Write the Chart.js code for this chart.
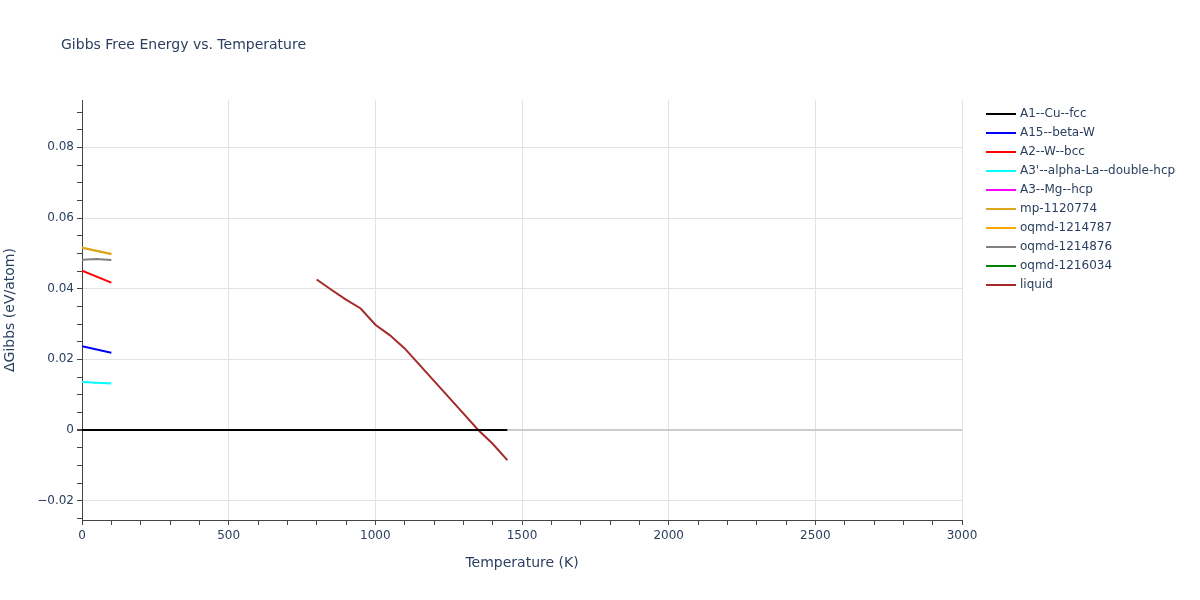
<!DOCTYPE html>
<html lang="en">
<head>
    <meta charset="UTF-8">
    <title>Gibbs Free Energy vs. Temperature</title>
    <script src="https://cdn.jsdelivr.net/npm/chart.js"></script>
    <style>
        body {
            margin: 0;
            padding: 0;
            background: #fff;
        }
        #wrap {
            width: 1200px;
            height: 600px;
        }
    </style>
</head>
<body>
    <div id="wrap">
        <canvas id="gibbsChart" width="1200" height="600"></canvas>
    </div>

    <script>
        // Series names and colours, in legend order
        const seriesNames = ['A1--Cu--fcc', 'A15--beta-W', 'A2--W--bcc', "A3'--alpha-La--double-hcp", 'A3--Mg--hcp',
            'mp-1120774', 'oqmd-1214787', 'oqmd-1214876', 'oqmd-1216034', 'liquid'];
        const seriesColors = ['#000000', '#0000ff', '#ff0000', '#00ffff', '#ff00ff',
            '#daa520', '#ffa500', '#808080', '#008000', '#a52a2a'];

        // Temperatures (K) and ΔGibbs (eV/atom) for each phase
        const tA1 = [0, 1450];
        const gA1 = [0, 0];
        const tA15 = [0, 100];
        const gA15 = [0.0237, 0.0219];
        const tA2 = [0, 100];
        const gA2 = [0.0451, 0.0417];
        const tA3p = [0, 100];
        const gA3p = [0.0136, 0.0132];
        const tA3 = [];
        const gA3 = [];
        const tMp = [0, 100];
        const gMp = [0.0516, 0.0498];
        const tOq787 = [0, 100];
        const gOq787 = [0.0516, 0.0498];
        const tOq876 = [0, 50, 100];
        const gOq876 = [0.0482, 0.0484, 0.0481];
        const tOq034 = [];
        const gOq034 = [];
        const tLiquid = [800, 850, 900, 950, 1000, 1050, 1100, 1150, 1200, 1250, 1300, 1350, 1400, 1450];
        const gLiquid = [0.0426, 0.0397, 0.0369, 0.0344, 0.0298, 0.0268, 0.0231, 0.0185, 0.0139, 0.0093, 0.0047, 0.0001, -0.0039, -0.0085];

        const seriesT = [tA1, tA15, tA2, tA3p, tA3, tMp, tOq787, tOq876, tOq034, tLiquid];
        const seriesG = [gA1, gA15, gA2, gA3p, gA3, gMp, gOq787, gOq876, gOq034, gLiquid];

        // Axis ticks
        const xMajorTicks = [0, 500, 1000, 1500, 2000, 2500, 3000];
        const xMinorStep = 100;
        const yMajorTicks = [-0.02, 0, 0.02, 0.04, 0.06, 0.08];
        const yMinorStep = 0.005;

        const xMin = 0, xMax = 3000;
        const yMin = -0.02546, yMax = 0.0934;

        const textColor = '#2a3f5f';
        const fontFamily = '"DejaVu Sans", Verdana, sans-serif';

        function isMajor(v, list) {
            return list.some(m => Math.abs(m - v) < 1e-9);
        }

        function makeTicks(min, max, step) {
            const out = [];
            const start = Math.ceil(min / step - 1e-9);
            const end = Math.floor(max / step + 1e-9);
            for (let i = start; i <= end; i++) {
                out.push({ value: Math.round(i * step * 1e6) / 1e6 });
            }
            return out;
        }

        const datasets = seriesNames.map((name, i) => ({
            label: name,
            data: seriesT[i].map((t, j) => ({ x: t, y: seriesG[i][j] })),
            borderColor: seriesColors[i],
            backgroundColor: seriesColors[i],
            borderWidth: 2,
            pointRadius: 0,
            tension: 0,
            fill: false
        }));

        // Title, axis titles and legend drawn on top, Plotly-style
        const decorPlugin = {
            id: 'decor',
            afterDraw(chart) {
                const ctx = chart.ctx;
                ctx.save();
                ctx.fillStyle = textColor;
                ctx.textBaseline = 'middle';

                ctx.font = '14px ' + fontFamily;
                ctx.textAlign = 'left';
                ctx.fillText('Gibbs Free Energy vs. Temperature', 61, 45);

                ctx.font = '14px ' + fontFamily;
                ctx.textAlign = 'center';
                const area = chart.chartArea;
                ctx.fillText('Temperature (K)', (area.left + area.right) / 2, 563);

                ctx.save();
                ctx.translate(10, (area.top + area.bottom) / 2);
                ctx.rotate(-Math.PI / 2);
                ctx.fillText('\u0394Gibbs (eV/atom)', 0, 0);
                ctx.restore();

                ctx.font = '12px ' + fontFamily;
                ctx.textAlign = 'left';
                seriesNames.forEach((name, i) => {
                    const y = 114 + i * 19;
                    ctx.strokeStyle = seriesColors[i];
                    ctx.lineWidth = 2;
                    ctx.beginPath();
                    ctx.moveTo(986, y);
                    ctx.lineTo(1016, y);
                    ctx.stroke();
                    ctx.fillText(name, 1020, y);
                });
                ctx.restore();
            }
        };

        const ctx = document.getElementById('gibbsChart').getContext('2d');
        const chart = new Chart(ctx, {
            type: 'line',
            data: { datasets: datasets },
            options: {
                responsive: false,
                animation: false,
                layout: {
                    padding: { top: 100, right: 238, left: 0, bottom: 0 }
                },
                plugins: {
                    legend: { display: false },
                    title: { display: false },
                    tooltip: { enabled: false }
                },
                scales: {
                    x: {
                        type: 'linear',
                        min: xMin,
                        max: xMax,
                        afterFit(scale) { scale.height = 80; },
                        afterBuildTicks(scale) { scale.ticks = makeTicks(xMin, xMax, xMinorStep); },
                        border: { display: true, color: '#444', width: 1 },
                        grid: {
                            color: c => isMajor(c.tick.value, xMajorTicks) ? '#e2e2e2' : 'rgba(0,0,0,0)',
                            tickColor: '#444',
                            tickLength: 5,
                            drawTicks: true
                        },
                        ticks: {
                            autoSkip: false,
                            maxRotation: 0,
                            color: textColor,
                            font: { family: fontFamily, size: 12 },
                            padding: 4,
                            callback: v => isMajor(v, xMajorTicks) ? String(Math.round(v)) : ''
                        }
                    },
                    y: {
                        type: 'linear',
                        min: yMin,
                        max: yMax,
                        afterFit(scale) { scale.width = 82; },
                        afterBuildTicks(scale) { scale.ticks = makeTicks(yMin, yMax, yMinorStep); },
                        border: { display: true, color: '#444', width: 1 },
                        grid: {
                            color: c => {
                                const v = c.tick.value;
                                if (Math.abs(v) < 1e-9) return '#cccccc';
                                return isMajor(v, yMajorTicks) ? '#e2e2e2' : 'rgba(0,0,0,0)';
                            },
                            lineWidth: c => Math.abs(c.tick.value) < 1e-9 ? 2 : 1,
                            tickColor: '#444',
                            tickLength: 5,
                            drawTicks: true
                        },
                        ticks: {
                            autoSkip: false,
                            color: textColor,
                            font: { family: fontFamily, size: 12 },
                            padding: 3,
                            callback: v => {
                                if (!isMajor(v, yMajorTicks)) return '';
                                if (Math.abs(v) < 1e-9) return '0';
                                const s = Math.abs(v).toFixed(2);
                                return v < 0 ? '\u2212' + s : s;
                            }
                        }
                    }
                }
            },
            plugins: [decorPlugin]
        });
    </script>
</body>
</html>
